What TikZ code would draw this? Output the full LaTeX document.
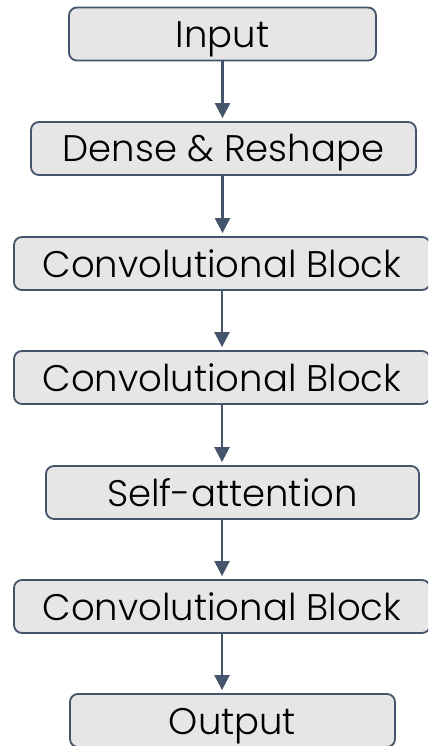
\documentclass[tikz,border=0pt]{standalone}
\usepackage{fontspec}
\setmainfont{Poppins Light}
\usetikzlibrary{arrows.meta}
\definecolor{edge}{HTML}{44546A}
\definecolor{boxfill}{HTML}{E6E6E6}
\begin{document}
\begin{tikzpicture}[x=1pt,y=-1pt,
  stage/.style={draw=edge, fill=boxfill, line width=1.8pt, rounded corners=8pt,
    minimum height=53pt, text height=27pt, text depth=0pt,
    inner ysep=0pt, inner xsep=0pt, font=\fontsize{37}{40}\selectfont},
  flow/.style={draw=edge, line width=2.4pt,
    -{Triangle[width=15pt,length=15pt]}, shorten >=3pt}]
\useasboundingbox (0,0) rectangle (428,746);
\clip (0,0) rectangle (428,746);
% pipeline stages, top to bottom
\node[stage, minimum width=307pt] (in)    at (222.5,34)  {Input};
\node[stage, minimum width=385pt] (dense) at (223.5,148.5) {Dense \& Reshape};
\node[stage, minimum width=416pt] (conv1) at (222,263.5) {Convolutional Block};
\node[stage, minimum width=416pt] (conv2) at (222,377.5) {Convolutional Block};
\node[stage, minimum width=373pt] (sa)    at (232.5,492.5) {Self-attention};
\node[stage, minimum width=416pt] (conv3) at (222,606.5) {Convolutional Block};
\node[stage, minimum width=325pt] (out)   at (232.5,720.5) {Output};
% connectors along the main axis
\draw[flow] (in.south) -- (in.south |- dense.north);
\draw[flow] (in.south |- dense.south) -- (in.south |- conv1.north);
\draw[flow] (conv1.south) -- (conv2.north);
\draw[flow] (conv2.south) -- (conv2.south |- sa.north);
\draw[flow] (conv3.north |- sa.south) -- (conv3.north);
\draw[flow] (conv3.south) -- (conv3.south |- out.north);
\end{tikzpicture}
\end{document}
